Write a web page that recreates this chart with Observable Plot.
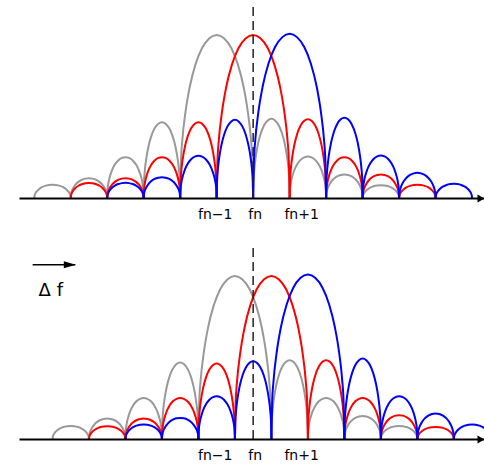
<!DOCTYPE html>
<html><head><meta charset="utf-8">
<script src="https://cdn.jsdelivr.net/npm/d3@7"></script>
<script src="https://cdn.jsdelivr.net/npm/@observablehq/plot@0.6"></script>
<style>
body{margin:0;background:#fff}
#chart{width:484px}
#chart svg{display:block}
</style>
</head><body><div id="chart"></div>
<script>
// ---- data: subcarrier spectra (frequency in units of subcarrier spacing, fn = 0) ----
// Top panel: orthogonal subcarriers (zeros aligned)
const topGrayZeros = [-6, -5, -4, -3, -2, 0, 1, 2, 3, 4];
const topGrayPeaks = [0.084, 0.124, 0.253, 0.467, 1.0, 0.487, 0.257, 0.147, 0.081];
const topRedZeros  = [-5, -4, -3, -2, -1, 1, 2, 3, 4, 5];
const topRedPeaks  = [0.095, 0.124, 0.253, 0.467, 1.0, 0.485, 0.253, 0.147, 0.084];
const topBlueZeros = [-4, -3, -2, -1, 0, 2, 3, 4, 5, 6];
const topBluePeaks = [0.096, 0.130, 0.261, 0.481, 1.007, 0.494, 0.263, 0.157, 0.090];

// Bottom panel: spectra shifted by a frequency offset Δf
const botGrayZeros = [-5.5, -4.5, -3.5, -2.5, -1.5, 0.5, 1.5, 2.5, 3.5, 4.5];
const botGrayPeaks = [0.083, 0.128, 0.254, 0.471, 1.0, 0.485, 0.254, 0.144, 0.083];
const botRedZeros  = [-4.5, -3.5, -2.5, -1.5, -0.5, 1.5, 2.5, 3.5, 4.5, 5.5];
const botRedPeaks  = [0.081, 0.128, 0.254, 0.465, 1.0, 0.485, 0.254, 0.149, 0.077];
const botBlueZeros = [-3.5, -2.5, -1.5, -0.5, 0.5, 2.5, 3.5, 4.5, 5.5, 6.5];
const botBluePeaks = [0.092, 0.132, 0.264, 0.479, 1.009, 0.495, 0.265, 0.159, 0.092];

// normalized lobe outline (position within lobe, relative height)
const lobeT = [0, 0.01, 0.03, 0.07, 0.13, 0.21, 0.3, 0.4, 0.5, 0.6, 0.7, 0.79, 0.87, 0.93, 0.97, 0.99, 1];
const lobeV = [0, 0.22, 0.36, 0.52, 0.68, 0.82, 0.92, 0.98, 1, 0.98, 0.92, 0.82, 0.68, 0.52, 0.36, 0.22, 0];

// tick labels
const tickValues = [-1, 0, 1];
const tickLabels = ["fn\u22121", "fn", "fn+1"];
const offsetLabel = "\u0394 f";

// ---- layout / style ----
const W = 484, H = 232;
const xDomain = [-6.39, 6.34];
const yDomain = [0, 1.168];
const labelDx = [-1.5, 2, 12];
const colors = {gray: "#999999", red: "#ff0000", blue: "#0000ff"};
const annot = {x1: -6.03, x2: -4.86, y: 1.068, tx: -5.88, ty: 0.875};

const axisHead = {draw(ctx) { ctx.moveTo(0, 0); ctx.lineTo(-7, -4); ctx.lineTo(-7, 4); ctx.closePath(); }};
const smallHead = {draw(ctx) { ctx.moveTo(0, 0); ctx.lineTo(-12, -3.5); ctx.lineTo(-12, 3.5); ctx.closePath(); }};

function lobePoints(zeros, peaks, name) {
  const pts = [];
  peaks.forEach((h, i) => {
    const a = zeros[i], b = zeros[i + 1];
    lobeT.forEach((t, j) => pts.push({lobe: name + i, x: a + t * (b - a), y: h * lobeV[j]}));
  });
  return pts;
}

function panel(series, mt, mb, extra) {
  return Plot.plot({
    width: W, height: H,
    marginLeft: 19.5, marginRight: 0, marginTop: mt, marginBottom: mb,
    x: {domain: xDomain, axis: null},
    y: {domain: yDomain, axis: null},
    style: {background: "white", fontFamily: "DejaVu Sans", overflow: "visible"},
    marks: [
      ...series.map(s => Plot.line(lobePoints(s.zeros, s.peaks, s.name), {
        x: "x", y: "y", z: "lobe", stroke: s.color, strokeWidth: 2, curve: "monotone-x", clip: true
      })),
      Plot.ruleX([0], {stroke: "#222", strokeWidth: 1.5, strokeDasharray: "9,5"}),
      Plot.ruleY([0], {stroke: "black", strokeWidth: 2}),
      Plot.dot([xDomain[1]], {x: d => d, y: 0, symbol: axisHead, fill: "black", stroke: "none", r: 4}),
      ...tickLabels.map((t, i) => Plot.text([t], {
        x: tickValues[i], y: 0, text: d => d, dx: labelDx[i], dy: 20, lineAnchor: "bottom",
        fontSize: 14, fill: "black"
      })),
      ...extra
    ]
  });
}

const topChart = panel([
  {name: "g", zeros: topGrayZeros, peaks: topGrayPeaks, color: colors.gray},
  {name: "r", zeros: topRedZeros, peaks: topRedPeaks, color: colors.red},
  {name: "b", zeros: topBlueZeros, peaks: topBluePeaks, color: colors.blue}
], 7, 34, []);

const bottomChart = panel([
  {name: "g", zeros: botGrayZeros, peaks: botGrayPeaks, color: colors.gray},
  {name: "r", zeros: botRedZeros, peaks: botRedPeaks, color: colors.red},
  {name: "b", zeros: botBlueZeros, peaks: botBluePeaks, color: colors.blue}
], 16, 25, [
  Plot.ruleY([annot.y], {x1: annot.x1, x2: annot.x2, stroke: "black", strokeWidth: 1.5}),
  Plot.dot([annot.x2], {x: d => d, y: annot.y, symbol: smallHead, fill: "black", stroke: "none", r: 4}),
  Plot.text([offsetLabel], {x: annot.tx, y: annot.ty, text: d => d, textAnchor: "start", lineAnchor: "bottom", fontSize: 18, fill: "black"})
]);

document.getElementById("chart").append(topChart, bottomChart);
</script>
</body></html>
